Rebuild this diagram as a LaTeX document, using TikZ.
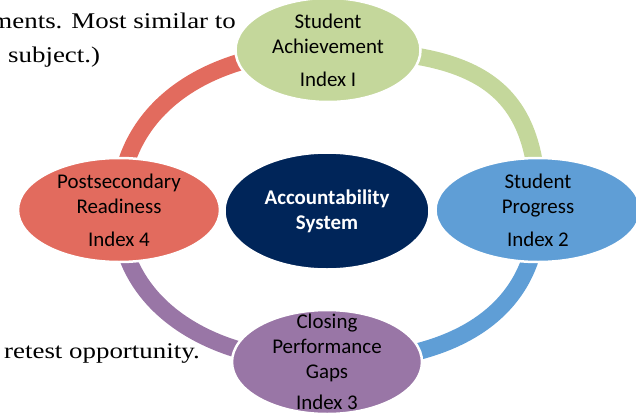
\documentclass[tikz,border=0pt]{standalone}
\usepackage{fontspec}
\setmainfont{Carlito}
\newfontfamily\bodyserif{Liberation Serif}[FakeStretch=1.2]
\usetikzlibrary{shapes.geometric}
\usetikzlibrary{backgrounds}
\definecolor{idxgreen}{RGB}{196,215,155}
\definecolor{idxblue}{RGB}{95,158,214}
\definecolor{idxpurple}{RGB}{153,118,166}
\definecolor{idxred}{RGB}{226,107,94}
\definecolor{hubnavy}{RGB}{0,37,89}

\begin{document}
\begin{tikzpicture}[x=1bp, y=1bp,
  index/.style={ellipse, draw=white, line width=2.5bp, inner sep=0pt},
  indextext/.style={align=center, inner sep=0pt, font=\fontsize{21}{25}\selectfont},
  ring/.style={line width=17bp},
  pagetext/.style={inner sep=0pt, font=\bodyserif\fontsize{22.5}{26}\selectfont}]

\useasboundingbox (0,0) rectangle (636,414);

% Page text around the figure
\node[pagetext, anchor=base east] (simline) at (236,386) {ments. Most similar to};
\node[pagetext, anchor=base west] (subjline) at (8,352) {subject.)};
\node[pagetext, anchor=base west] (retestline) at (4,56) {retest opportunity.};

% The four indices
\node[index, fill=idxgreen, minimum width=185bp, minimum height=104bp] (achieve) at (328,364) {};
\node[indextext] (achieve-txt) at (achieve) {Student\\Achievement\\[8bp]Index I};

\node[index, fill=idxblue, minimum width=205bp, minimum height=104bp] (prog) at (538,204) {};
\node[indextext] (prog-txt) at (prog) {Student\\Progress\\[8bp]Index 2};

\node[index, fill=idxpurple, minimum width=190bp, minimum height=104bp] (gaps) at (327,52) {};
\node[indextext] (gaps-txt) at (gaps) {Closing\\Performance\\Gaps\\[6bp]Index 3};

\node[index, fill=idxred, minimum width=202bp, minimum height=104bp] (ready) at (119,204) {};
\node[indextext] (ready-txt) at (ready) {Postsecondary\\Readiness\\[8bp]Index 4};

% Hub
\node[index, fill=hubnavy, minimum width=205bp, minimum height=117bp] (hub) at (327,203) {};
\node[indextext, text=white, font=\bfseries\fontsize{21}{25}\selectfont] (hub-txt) at (hub) {Accountability\\System};

% Ring between the indices
\begin{pgfonlayer}{background}
  \draw[ring, idxgreen] (achieve.center) .. controls +(152,0) and +(0,123) .. (prog.center);
  \draw[ring, idxblue] (prog.center) .. controls +(0,-93) and +(140,0) .. (gaps.center);
  \draw[ring, idxpurple] (gaps.center) .. controls +(-120,0) and +(0,-93) .. (ready.center);
  \draw[ring, idxred] (ready.center) .. controls +(0,101) and +(-121,0) .. (achieve.center);
\end{pgfonlayer}

\end{tikzpicture}
\end{document}
